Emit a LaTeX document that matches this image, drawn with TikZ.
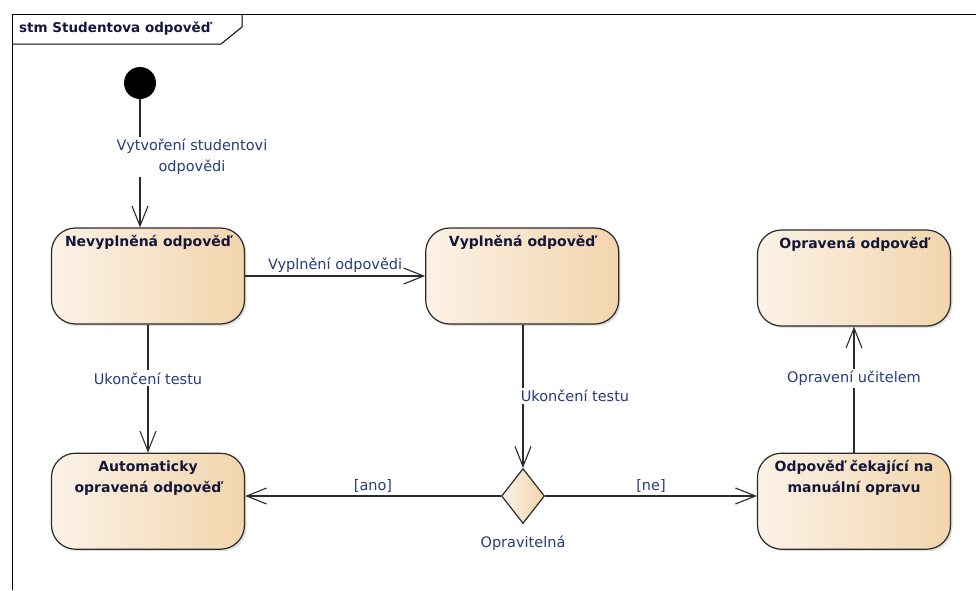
\documentclass[tikz,border=0pt]{standalone}
\usepackage{fontspec}
\setmainfont{DejaVu Sans}
\usetikzlibrary{
  arrows.meta,
  shapes.geometric,
  positioning,
  shadows
}
\definecolor{smLight}{HTML}{FBF2E7}
\definecolor{smTan}{HTML}{F2D5AC}
\definecolor{smLine}{HTML}{2A2A2A}
\definecolor{smName}{HTML}{14173A}
\definecolor{smGuard}{HTML}{263C7C}
\tikzset{
  frame/.style={line width=1pt, black},
  state/.style={
    draw=smLine, line width=1.2pt, rounded corners=24pt,
    minimum width=193pt, minimum height=96pt,
    left color=smLight, right color=smTan,
    drop shadow={shadow xshift=2pt, shadow yshift=-2pt, opacity=0.25}
  },
  statename/.style={
    font=\fontsize{14}{21}\selectfont\bfseries, text=smName,
    align=center, anchor=north, inner sep=0pt, yshift=-8pt
  },
  initial/.style={circle, fill=black, minimum size=32pt, inner sep=0pt},
  choice/.style={
    diamond, draw=smLine, line width=1.2pt, inner sep=0pt,
    minimum width=43pt, minimum height=55pt,
    left color=smLight, right color=smTan
  },
  trans/.style={-{Straight Barb[length=20pt, width=16pt]}, line width=1.1pt, smLine},
  guard/.style={font=\fontsize{14.5}{21.5}\selectfont, text=smGuard, align=center},
  cut/.style={guard, fill=white, inner sep=2pt}
}

\begin{document}
\begin{tikzpicture}[x=1pt, y=-1pt]
  \useasboundingbox (0,0) rectangle (976,590);
  % frame and title tab
  \draw[frame] (12,590) -- (12,14) -- (976,14);
  \draw[frame] (12,44) -- (221,44) -- (242,27) -- (242,14);
  \node[anchor=west, font=\fontsize{13.5}{16}\selectfont\bfseries, text=smName, inner sep=0pt] (title) at (19,29) {stm Studentova odpověď};

  % states
  \node[initial] (init) at (140,83) {};
  \node[state, label={[statename]north:Nevyplněná odpověď}] (nev) at (148,276) {};
  \node[state, right=180pt of nev, label={[statename]north:Vyplněná odpověď}] (vyp) {};
  \node[state, label={[statename]north:Opravená odpověď}] (opr) at (854,278) {};
  \node[state, below=128pt of nev, label={[statename]north:Automaticky\\opravená odpověď}] (aut) {};
  \node[state, below=126pt of opr, label={[statename, yshift=1pt]north:Odpověď čekající na\\manuální opravu}] (cek) {};
  \node[choice, label={[guard, label distance=8pt]below:Opravitelná}] (dia) at (523,496) {};

  % transitions
  \draw[trans] (init) -- node[cut, pos=0.45, xshift=52pt] {Vytvoření studentovi\\odpovědi} (init |- nev.north);
  \draw[trans] (nev) -- node[guard, above] {Vyplnění odpovědi} (vyp);
  \draw[trans] (nev) -- node[cut, pos=0.42] {Ukončení testu} (aut);
  \draw[trans] (dia.north |- vyp.south) -- node[cut, xshift=52pt] {Ukončení testu} (dia.north);
  \draw[trans] (dia.west) -- node[guard, above] {[ano]} (dia.west -| aut.east);
  \draw[trans] (dia.east) -- node[guard, above] {[ne]} (dia.east -| cek.west);
  \draw[trans] (cek) -- node[cut, pos=0.59] {Opravení učitelem} (opr);
\end{tikzpicture}
\end{document}
